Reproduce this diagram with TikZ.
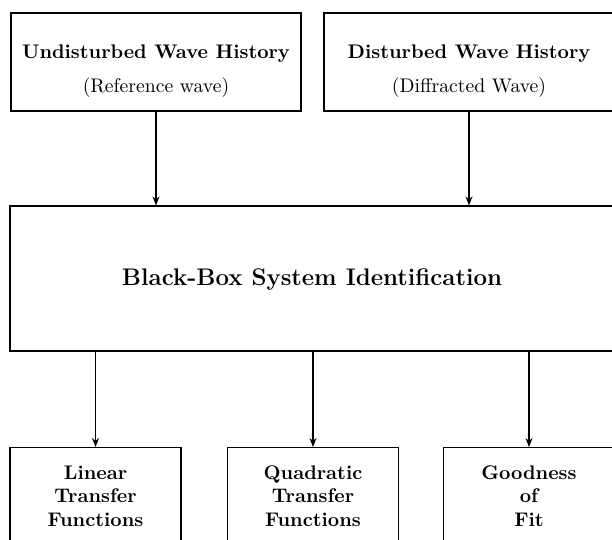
\documentclass[tikz,border=0pt]{standalone}
\usepackage{graphicx}
\usetikzlibrary{arrows.meta}
\newcommand{\bigtxt}[1]{\scalebox{1.97}{\fontsize{10}{12}\selectfont #1}}
\newcommand{\stacktxt}[1]{\scalebox{1.97}{\fontsize{10}{12}\selectfont\bfseries\begin{tabular}[t]{@{}c@{}}#1\end{tabular}}}
\begin{document}
\begin{tikzpicture}[x=1pt,y=-1pt,
  box/.style={draw,line width=1.1pt,rectangle,inner sep=0pt},
  lbl/.style={inner sep=0pt,anchor=base},
  arr/.style={line width=1.1pt,-{Stealth[length=9pt,width=7pt]}}]
\useasboundingbox (0,0) rectangle (612,539);
\clip (0,0) rectangle (612,539);
% top boxes
\node[box,minimum width=290pt,minimum height=98pt] (top1) at (156,62) {};
\node[lbl] (top1t) at (156,58) {\bigtxt{\bfseries Undisturbed Wave History}};
\node[lbl] (top1s) at (156,92) {\bigtxt{(Reference wave)}};
\node[box,minimum width=290pt,minimum height=98pt] (top2) at (469,62) {};
\node[lbl] (top2t) at (469,58) {\bigtxt{\bfseries Disturbed Wave History}};
\node[lbl] (top2s) at (469,92) {\bigtxt{(Diffracted Wave)}};
% big box
\node[box,minimum width=604pt,minimum height=145pt] (big) at (312,278.5) {};
\node[lbl] (bigt) at (312,285) {\scalebox{2}{\fontsize{12}{14.4}\selectfont\bfseries Black-Box System Identification}};
% bottom boxes
\node[box,minimum width=171pt,minimum height=110pt,anchor=north] (bot1) at (95.5,447) {};
\node[box,minimum width=171pt,minimum height=110pt,anchor=north] (bot2) at (313,447) {};
\node[box,minimum width=171pt,minimum height=110pt,anchor=north] (bot3) at (529,447) {};
\node[lbl] (bot1t) at (95.5,479) {\stacktxt{Linear\\Transfer\\Functions}};
\node[lbl] (bot2t) at (313,479) {\stacktxt{Quadratic\\Transfer\\Functions}};
\node[lbl] (bot3t) at (529,479) {\stacktxt{Goodness\\of\\Fit}};
% arrows
\draw[arr] (top1.south) -- (top1.south |- big.north);
\draw[arr] (top2.south) -- (top2.south |- big.north);
\draw[arr] (bot1.north |- big.south) -- (bot1.north);
\draw[arr] (bot2.north |- big.south) -- (bot2.north);
\draw[arr] (bot3.north |- big.south) -- (bot3.north);
\end{tikzpicture}
\end{document}
